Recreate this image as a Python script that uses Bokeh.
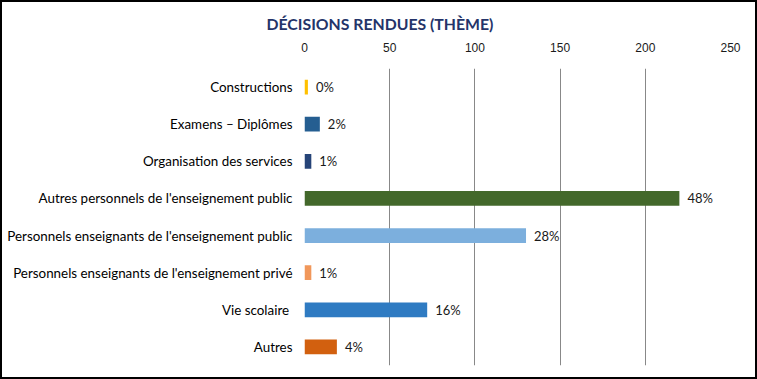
from bokeh.plotting import figure
from bokeh.models import Range1d, FactorRange, ColumnDataSource, FixedTicker
from bokeh.core.properties import value
from bokeh.embed import file_html
from bokeh.resources import INLINE

categories = [
    "Constructions",
    "Examens – Diplômes",
    "Organisation des services",
    "Autres personnels de l'enseignement public",
    "Personnels enseignants de l'enseignement public",
    "Personnels enseignants de l'enseignement privé",
    "Vie scolaire ",
    "Autres",
]
counts = [2, 9, 4, 220, 130, 4, 72, 19]
colors = ["#FFC000", "#255E91", "#264478", "#43682B", "#7CAFDD", "#F1975A", "#2F7BC2", "#D2600F"]
x_ticks = [0, 50, 100, 150, 200, 250]
title_text = "DÉCISIONS RENDUES (THÈME)"

total = sum(counts)
pct_labels = [f"{round(c / total * 100)}%" for c in counts]

src = ColumnDataSource(dict(cat=categories, count=counts, color=colors, pct=pct_labels))

p = figure(
    frame_width=426, frame_height=297,
    min_border_left=302, min_border_right=25, min_border_top=66, min_border_bottom=12,
    x_range=Range1d(0, 250), y_range=FactorRange(*categories[::-1]),
    x_axis_location="above",
    output_backend="svg", toolbar_location=None,
)
p.outline_line_color = None
p.background_fill_color = "white"
p.border_fill_color = "white"
p.styles = {"border": "2px solid #000000"}

p.hbar(y="cat", left=0, right="count", height=0.4, fill_color="color", line_color=None, source=src)
p.text(x="count", y="cat", text="pct", x_offset=8, text_baseline="middle", text_align="left",
       text_font=value("Lato"), text_font_size="13px", text_color="#1a1a1a", source=src)

p.title.text = title_text
p.title.align = "left"
p.title.offset = -38
p.title.text_font = "Lato"
p.title.text_font_style = "bold"
p.title.text_font_size = "15.8px"
p.title.text_color = "#243469"
p.title.standoff = 14

xa = p.xaxis[0]
xa.ticker = FixedTicker(ticks=x_ticks)
xa.axis_line_color = None
xa.major_tick_line_color = None
xa.minor_tick_line_color = None
xa.major_tick_out = 0
xa.major_label_standoff = 17
xa.major_label_text_font = "Liberation Sans"
xa.major_label_text_font_size = "12px"
xa.major_label_text_color = "#1a1a1a"

ya = p.yaxis[0]
ya.axis_line_color = None
ya.major_tick_line_color = None
ya.minor_tick_line_color = None
ya.major_tick_out = 0
ya.major_label_standoff = 12
ya.major_label_text_font = "Lato"
ya.major_label_text_font_size = "13.4px"
ya.major_label_text_color = "#000000"

p.xgrid.ticker = FixedTicker(ticks=x_ticks)
p.xgrid.grid_line_color = "#888888"
p.xgrid.grid_line_width = 1
p.ygrid.grid_line_color = None

open("out.html", "w").write(file_html(p, INLINE))
